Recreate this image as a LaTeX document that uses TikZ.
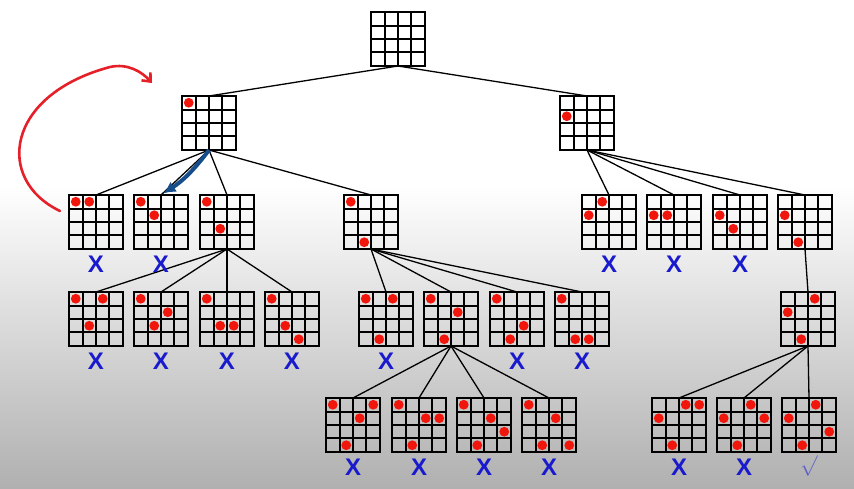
\documentclass[tikz,border=0pt]{standalone}
\usepackage{fontspec}
\newfontfamily\xfont{Liberation Sans}
\usetikzlibrary{calc,arrows.meta}
\definecolor{qred}{RGB}{240,22,12}
\definecolor{xblue}{RGB}{25,25,205}
\definecolor{arrblue}{RGB}{22,78,140}
\definecolor{curvered}{RGB}{230,32,40}
\definecolor{chk}{RGB}{95,95,200}
\definecolor{bgbot}{RGB}{176,176,176}
\tikzset{
  brd/.style={draw, line width=1.7pt, minimum width=54pt, minimum height=54pt, inner sep=0pt, outer sep=0pt, anchor=north west},
  gl/.style={line width=1.7pt, black},
  edge/.style={line width=1.3pt, black},
  xl/.style={text=xblue, font=\xfont\bfseries\fontsize{24}{24}\selectfont, inner sep=0pt},
}
\newcommand\brd[3]{%
  \node[brd] (#1) at (#2,#3) {};
  \foreach \p in {14,27,40} {
    \draw[gl] ($(#1.north west)+(\p,0)$) -- ($(#1.south west)+(\p,0)$);
    \draw[gl] ($(#1.north west)+(0,\p)$) -- ($(#1.north east)+(0,\p)$);
  }%
}
\newcommand\qdots[2]{%
  \foreach \c/\r in {#2} {
    \fill[qred] ($(#1.north west)+(\c*13.5-6.75,\r*13.5-6.75)$) circle (4.9);
  }%
}
\newcommand\xmark[1]{\node[xl] (x#1) at ($(#1.south)+(0,15.5)$) {X};}
\begin{document}
\begin{tikzpicture}[x=1pt,y=-1pt]
\useasboundingbox (0,0) rectangle (854,488);
\fill[white] (0,0) rectangle (854,488);
\shade[top color=white, bottom color=bgbot] (0,185) rectangle (854,488);

% boards
\brd{root}{371}{12}
\brd{La}{182}{96}
\brd{Lb}{560}{96}
\brd{A1}{69}{195}\brd{A2}{134}{195}\brd{A3}{200}{195}\brd{A4}{344}{195}
\brd{B1}{582}{195}\brd{B2}{647}{195}\brd{B3}{713}{195}\brd{B4}{778}{195}
\brd{C1}{69}{292}\brd{C2}{134}{292}\brd{C3}{200}{292}\brd{C4}{265}{292}
\brd{D1}{359}{292}\brd{D2}{424}{292}\brd{D3}{490}{292}\brd{D4}{555}{292}
\brd{E}{781}{292}
\brd{F1}{326}{398}\brd{F2}{392}{398}\brd{F3}{457}{398}\brd{F4}{522}{398}
\brd{G1}{652}{398}\brd{G2}{717}{398}\brd{G3}{782}{398}

% edges
\draw[edge] (root.south) -- (La.north);
\draw[edge] (root.south) -- (Lb.north);
\foreach \n in {A1,A2,A3,A4} {\draw[edge] (La.south) -- (\n.north);}
\foreach \n in {B1,B2,B3,B4} {\draw[edge] (Lb.south) -- (\n.north);}
\foreach \n in {C1,C2,C3,C4} {\draw[edge] (A3.south) -- (\n.north);}
\foreach \n in {D1,D2,D3,D4} {\draw[edge] (A4.south) -- (\n.north);}
\draw[edge] (B4.south) -- (E.north);
\foreach \n in {F1,F2,F3,F4} {\draw[edge] (D2.south) -- (\n.north);}
\foreach \n in {G1,G2,G3} {\draw[edge] (E.south) -- (\n.north);}

% queens
\qdots{La}{1/1}
\qdots{Lb}{1/2}
\qdots{A1}{1/1,2/1}\qdots{A2}{1/1,2/2}\qdots{A3}{1/1,2/3}\qdots{A4}{1/1,2/4}
\qdots{B1}{1/2,2/1}\qdots{B2}{1/2,2/2}\qdots{B3}{1/2,2/3}\qdots{B4}{1/2,2/4}
\qdots{C1}{1/1,2/3,3/1}\qdots{C2}{1/1,2/3,3/2}\qdots{C3}{1/1,2/3,3/3}\qdots{C4}{1/1,2/3,3/4}
\qdots{D1}{1/1,2/4,3/1}\qdots{D2}{1/1,2/4,3/2}\qdots{D3}{1/1,2/4,3/3}\qdots{D4}{1/1,2/4,3/4}
\qdots{E}{1/2,2/4,3/1}
\qdots{F1}{1/1,2/4,3/2,4/1}\qdots{F2}{1/1,2/4,3/2,4/2}\qdots{F3}{1/1,2/4,3/2,4/3}\qdots{F4}{1/1,2/4,3/2,4/4}
\qdots{G1}{1/2,2/4,3/1,4/1}\qdots{G2}{1/2,2/4,3/1,4/2}\qdots{G3}{1/2,2/4,3/1,4/3}

% X marks
\foreach \n in {A1,A2,B1,B2,B3,C1,C2,C3,C4,D1,D3,D4,F1,F2,F3,F4,G1,G2} {\xmark{\n}}
\node[text=chk, inner sep=0pt, font=\fontsize{22}{22}\selectfont] (ok) at ($(G3.south)+(0,14)$) {$\surd$};

% blue arrow
\draw[arrblue, line width=4pt, -{Latex[length=12pt,width=12pt]}, shorten >=3pt] (La.south) to[bend left=10] (A2.north);
% red curved arrow
\coordinate (rs) at (60,211);
\coordinate (re) at (152,83);
\draw[curvered, line width=2.6pt, line cap=round, -{Straight Barb[length=7pt,width=12pt]}]
  (rs) .. controls (-5,180) and (5,95) .. (110,67) .. controls (128,63) and (142,72) .. (re);
\end{tikzpicture}
\end{document}
